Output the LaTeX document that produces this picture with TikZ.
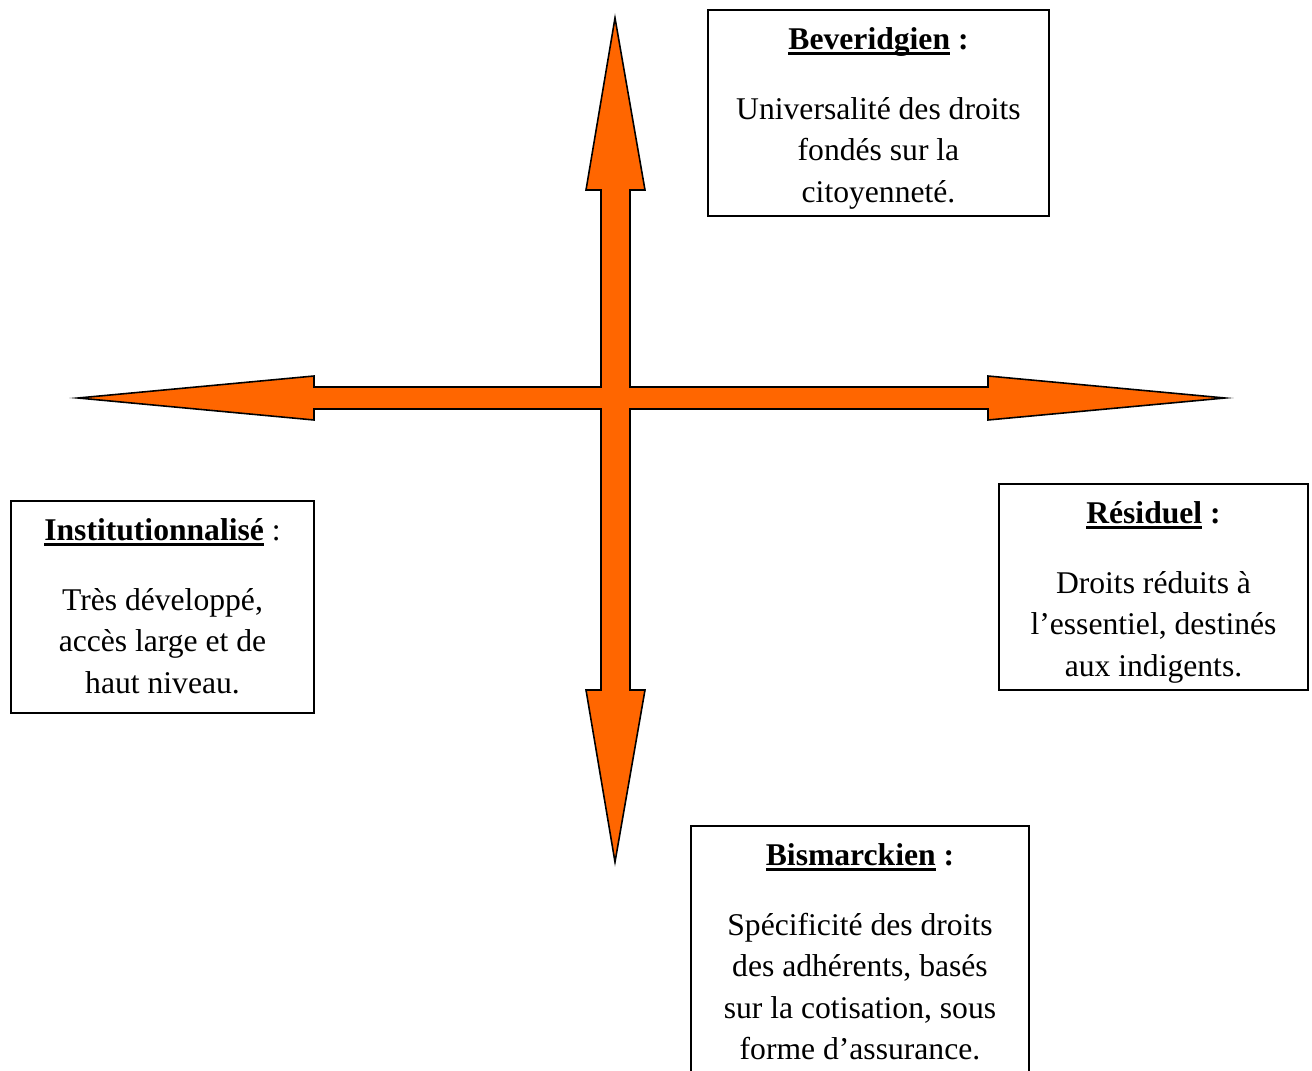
\documentclass[tikz,border=0pt]{standalone}
\usepackage{fontspec}
\setmainfont{Liberation Serif}
\newcommand{\titre}[1]{\setbox0\hbox{\textbf{#1}}\rlap{\rule[-3.2pt]{\wd0}{1.6pt}}\box0\relax}

\begin{document}
\begin{tikzpicture}[x=0.02cm, y=-0.02cm,
    cadre/.style={draw, line width=0.8pt, inner sep=0pt},
    texte/.style={anchor=base, align=center, inner sep=0pt, font=\fontsize{18}{23.6}\selectfont}]
    % couleur des flèches
    \definecolor{flecheorange}{RGB}{255, 102, 0}

    \useasboundingbox (0,0) rectangle (1312,1071);

    % croix de flèches (un seul contour)
    \draw[fill=flecheorange, line width=0.9pt, miter limit=12]
        (615,18) -- (645,190) -- (630,190) -- (630,387) -- (988,387) -- (988,376)
        -- (1225,398) -- (988,420) -- (988,409) -- (630,409) -- (630,690) -- (645,690)
        -- (615,862) -- (586,690) -- (601,690) -- (601,409) -- (314,409) -- (314,420)
        -- (78,398) -- (314,376) -- (314,387) -- (601,387) -- (601,190) -- (586,190) -- cycle;

    % cadres
    \node[cadre, minimum width=6.82cm, minimum height=4.12cm] (bev) at (878.5,113) {};
    \node[cadre, minimum width=6.06cm, minimum height=4.24cm] (inst) at (162.5,607) {};
    \node[cadre, minimum width=6.18cm, minimum height=4.12cm] (res) at (1153.5,587) {};
    \node[cadre, minimum width=6.76cm, minimum height=5.4cm] (bis) at (860,961) {};

    % textes (ancrés sur la dernière ligne)
    \node[texte] (bevtxt) at ([yshift=-3.86cm]bev.north)
        {\titre{Beveridgien} \textbf{:}\\[0.57cm] Universalité des droits\\ fondés sur la\\ citoyenneté.};
    \node[texte] (insttxt) at ([yshift=-3.86cm]inst.north)
        {\titre{Institutionnalisé} :\\[0.57cm] Très développé,\\ accès large et de\\ haut niveau.};
    \node[texte] (restxt) at ([yshift=-3.86cm]res.north)
        {\titre{Résiduel} \textbf{:}\\[0.57cm] Droits réduits à\\ l’essentiel, destinés\\ aux indigents.};
    \node[texte] (bistxt) at ([yshift=-4.69cm]bis.north)
        {\titre{Bismarckien} \textbf{:}\\[0.57cm] Spécificité des droits\\ des adhérents, basés\\ sur la cotisation, sous\\ forme d’assurance.};

\end{tikzpicture}
\end{document}
